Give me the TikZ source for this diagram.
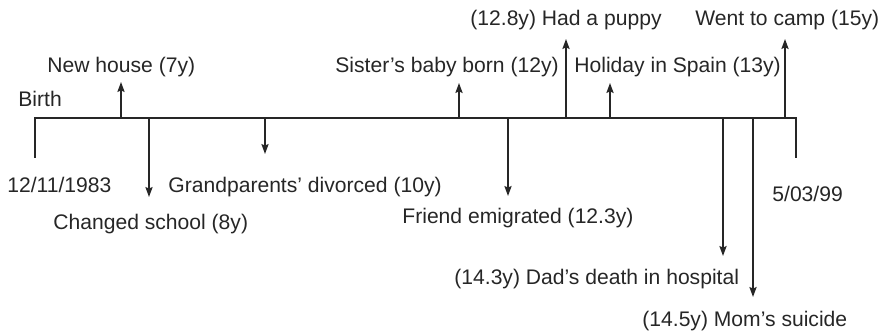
\documentclass[tikz,border=0pt]{standalone}
\usepackage{fontspec}
\setmainfont{Liberation Sans}
\usetikzlibrary{arrows.meta}
\begin{document}
\begin{tikzpicture}[x=0.5pt,y=-0.5pt,
  axis/.style={line width=0.75pt, draw=black!85},
  event/.style={line width=0.75pt, draw=black!85, -{Stealth[length=5pt,width=3.6pt,inset=0.8pt]}},
  lbl/.style={inner sep=0pt, anchor=base west, text=black!85, font=\fontsize{10.55}{12}\selectfont}]
  \useasboundingbox (0,0) rectangle (883,335);

  % timeline with end ticks
  \coordinate (start) at (35,158);
  \coordinate (stop) at (796,158);
  \draw[axis] (start) -- (35,118) -- (796,118) -- (stop);

  % points on the timeline
  \coordinate (t7)   at (121,118);
  \coordinate (t8)   at (149,118);
  \coordinate (t10)  at (265,118);
  \coordinate (t12)  at (459,118);
  \coordinate (t123) at (508,118);
  \coordinate (t128) at (566,118);
  \coordinate (t13)  at (610,118);
  \coordinate (t143) at (723,118);
  \coordinate (t145) at (753,118);
  \coordinate (t15)  at (785,118);

  % arrow tips
  \coordinate (e7)   at (121,82);
  \coordinate (e8)   at (149,197);
  \coordinate (e10)  at (265,154);
  \coordinate (e12)  at (459,83);
  \coordinate (e123) at (508,196);
  \coordinate (e128) at (566,39);
  \coordinate (e13)  at (610,83);
  \coordinate (e143) at (723,256);
  \coordinate (e145) at (753,297);
  \coordinate (e15)  at (785,39);

  \foreach \t/\e in {t7/e7,t8/e8,t10/e10,t12/e12,t123/e123,t128/e128,t13/e13,t143/e143,t145/e145,t15/e15}
    \draw[event] (\t) -- (\e);

  % labels
  \node[lbl] (birth)  at (18,107)  {Birth};
  \node[lbl] (dob)    at (7,193)   {12/11/1983};
  \node[lbl] (end)    at (772,202) {5/03/99};
  \node[lbl] (l7)     at (47,73)   {New house (7y)};
  \node[lbl] (l8)     at (53,230)  {Changed school (8y)};
  \node[lbl] (l10)    at (168,193) {Grandparents’ divorced (10y)};
  \node[lbl] (l12)    at (335,73)  {Sister’s baby born (12y)};
  \node[lbl] (l123)   at (402,224) {Friend emigrated (12.3y)};
  \node[lbl] (l128)   at (470,26)  {(12.8y) Had a puppy};
  \node[lbl] (l13)    at (574,73)  {Holiday in Spain (13y)};
  \node[lbl] (l15)    at (695,26)  {Went to camp (15y)};
  \node[lbl] (l143)   at (454,285) {(14.3y) Dad’s death in hospital};
  \node[lbl] (l145)   at (642,327) {(14.5y) Mom’s suicide};
\end{tikzpicture}
\end{document}
